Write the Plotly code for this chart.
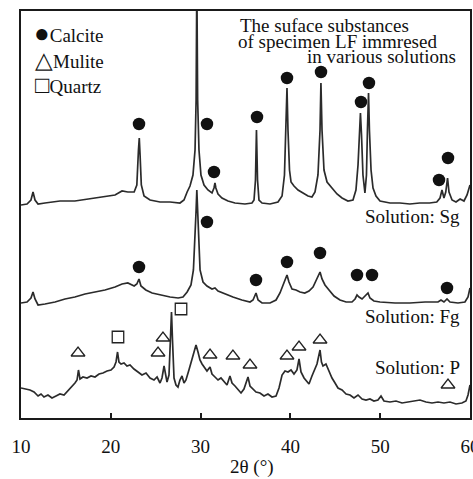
import plotly.graph_objects as go

# ---- XRD patterns (2θ in degrees, intensity in arbitrary units) ----
# Solution Sg
sg_2theta = [10.0, 10.67, 11.11, 11.34, 11.56, 11.9, 12.67, 14.34, 16.0, 17.7, 19.35, 20.47, 21.25, 21.9,
             22.6, 22.9, 23.08, 23.17, 23.26, 23.4, 23.7, 24.37, 25.48, 26.6, 27.7, 28.15, 28.5, 28.82,
             29.15, 29.38, 29.5, 29.58, 29.67, 29.82, 30.04, 30.38, 30.82, 31.27, 31.49, 31.6, 31.7, 31.94,
             32.38, 33.05, 33.83, 34.94, 35.72, 35.95, 36.11, 36.22, 36.34, 36.5, 36.84, 37.73, 38.62,
             39.07, 39.34, 39.51, 39.62, 39.73, 39.9, 40.07, 40.4, 40.85, 41.4, 41.96, 42.4, 42.74, 43.07,
             43.3, 43.4, 43.52, 43.74, 44.08, 44.63, 45.19, 45.75, 46.41, 46.97, 47.3, 47.53, 47.7, 47.8,
             47.92, 48.08, 48.3, 48.47, 48.58, 48.7, 48.8, 48.98, 49.2, 49.53, 49.98, 51.09, 52.2, 53.3,
             54.4, 55.5, 56.3, 56.66, 56.88, 57.1, 57.3, 57.5, 57.66, 58.0, 58.44, 58.9, 59.33, 59.67, 60.0]
sg_int = [13, 14, 18, 26, 18, 14, 15, 17, 17, 19, 21, 23, 27, 26,
          26, 33, 68, 80, 63, 33, 22, 18, 16, 16, 15, 18, 26, 32,
          43, 68, 118, 240, 118, 68, 43, 33, 28, 25, 30, 35, 30, 24,
          20, 17, 15, 14, 15, 18, 38, 88, 38, 18, 15, 14, 16,
          22, 43, 88, 130, 88, 48, 36, 32, 28, 25, 22, 21, 26, 43,
          88, 135, 88, 48, 36, 30, 24, 20, 17, 18, 28, 53, 88, 105,
          83, 43, 25, 43, 88, 125, 88, 48, 30, 22, 17, 15, 15, 14,
          15, 15, 16, 20, 28, 20, 26, 40, 26, 18, 16, 19, 17, 23, 33]

# Solution Fg
fg_2theta = [10.0, 10.67, 11.11, 11.34, 11.56, 11.9, 12.67, 13.79, 14.9, 16.0, 17.13, 18.24, 19.35, 20.47,
             21.25, 21.9, 22.6, 22.9, 23.14, 23.36, 23.9, 24.6, 25.48, 26.6, 27.5, 28.04, 28.5, 28.93,
             29.2, 29.38, 29.5, 29.58, 29.67, 29.77, 29.94, 30.27, 30.71, 31.27, 31.6, 31.94, 32.72, 33.6,
             34.6, 35.5, 35.84, 36.17, 36.4, 36.84, 37.73, 38.4, 38.84, 39.18, 39.4, 39.62, 39.84, 40.18,
             40.62, 41.07, 41.6, 42.07, 42.52, 42.85, 43.07, 43.3, 43.52, 43.85, 44.3, 44.86, 45.52, 46.2,
             46.86, 47.2, 47.42, 47.64, 47.98, 48.3, 48.64, 48.86, 49.3, 49.98, 51.65, 53.3, 55.0, 56.44,
             56.77, 57.1, 57.44, 57.77, 58.66, 59.44, 59.78, 60.0]
fg_int = [15, 16, 20, 26, 19, 13, 14, 16, 19, 21, 24, 26, 28, 31,
          34, 35, 32, 34, 39, 32, 28, 25, 23, 21, 20, 21, 26, 33,
          48, 78, 108, 128, 108, 78, 48, 36, 32, 29, 30, 27, 24, 21,
          18, 16, 18, 25, 18, 15, 15, 18, 25, 33, 38, 43, 36, 29,
          28, 26, 25, 27, 31, 38, 41, 46, 39, 33, 28, 22, 18, 16,
          16, 19, 23, 21, 19, 22, 25, 20, 17, 16, 15, 15, 16, 16,
          18, 16, 19, 16, 15, 16, 21, 30]

# Solution P
p_2theta = [10.0, 10.45, 11.0, 11.45, 11.9, 12.23, 12.56, 13.0, 13.45, 13.9, 14.34, 14.79, 15.23, 15.68,
            16.01, 16.24, 16.4, 16.57, 16.9, 17.35, 17.8, 18.24, 18.69, 19.13, 19.58, 20.02, 20.36, 20.58,
            20.75, 20.91, 21.14, 21.47, 21.8, 22.14, 22.58, 23.03, 23.47, 23.92, 24.37, 24.81, 25.15, 25.48,
            25.7, 25.93, 26.1, 26.26, 26.48, 26.65, 26.76, 26.87, 27.04, 27.26, 27.48, 27.7, 27.93, 28.15,
            28.37, 28.7, 29.04, 29.27, 29.49, 29.71, 29.93, 30.16, 30.49, 30.71, 31.05, 31.27, 31.6, 31.94,
            32.27, 32.6, 32.94, 33.27, 33.5, 33.83, 34.16, 34.5, 34.83, 35.06, 35.28, 35.5, 35.84, 36.17,
            36.61, 37.06, 37.5, 37.95, 38.4, 38.73, 39.07, 39.4, 39.73, 40.07, 40.4, 40.73, 40.96, 41.18,
            41.52, 41.85, 42.07, 42.4, 42.74, 42.96, 43.13, 43.3, 43.46, 43.63, 43.96, 44.3, 44.63, 44.97,
            45.3, 45.75, 46.2, 46.64, 47.08, 47.53, 47.98, 48.42, 48.86, 49.3, 49.75, 50.09, 50.42, 51.09,
            51.76, 52.43, 53.1, 53.77, 54.43, 55.1, 55.77, 56.44, 57.1, 57.77, 58.44, 59.1, 59.55, 59.78, 60.0]
p_int = [30, 29, 28, 26, 22, 24, 21, 23, 20, 22, 24, 23, 27, 32,
         35, 38, 48, 39, 41, 40, 42, 41, 44, 45, 47, 48, 51, 56,
         66, 56, 54, 55, 52, 53, 49, 46, 43, 45, 40, 38, 41, 35,
         40, 52, 43, 36, 43, 88, 106, 78, 40, 33, 31, 38, 42, 35,
         38, 48, 58, 66, 73, 66, 58, 54, 49, 47, 51, 44, 41, 38,
         40, 36, 33, 42, 35, 32, 28, 25, 29, 35, 41, 32, 29, 26,
         25, 22, 24, 21, 22, 30, 43, 47, 46, 48, 44, 48, 59, 46,
         40, 36, 34, 42, 49, 54, 61, 68, 56, 52, 54, 47, 40, 35,
         30, 28, 24, 23, 20, 23, 19, 18, 19, 17, 18, 22, 17, 16,
         17, 15, 16, 17, 18, 16, 15, 16, 15, 16, 14, 15, 17, 23, 33]

# vertical offsets used to stack the three patterns
offset_sg = 200
offset_fg = 100
offset_p = 0

# ---- phase identification marks (2θ, height above each pattern's offset) ----
calcite_sg_2theta = [23.14, 30.71, 31.49, 36.28, 39.62, 43.41, 47.86, 48.75, 56.55, 57.55]
calcite_sg_h = [94, 94, 46, 101, 140, 146, 116, 135, 38, 60]
calcite_fg_2theta = [23.14, 30.71, 36.17, 39.62, 43.3, 47.42, 49.09, 57.44]
calcite_fg_h = [51, 96, 38, 56, 65, 43, 43, 30]
mulite_p_2theta = [16.35, 25.26, 25.81, 31.05, 33.6, 35.5, 39.62, 40.96, 43.3, 57.55]
mulite_p_h = [65, 65, 80, 63, 62, 53, 62, 71, 78, 33]
quartz_p_2theta = [20.8, 27.82]
quartz_p_h = [81, 109]

x_ticks = [10, 20, 30, 40, 50, 60]

LINE = "#2b2b2b"
INK = "#111111"
SERIF = "Liberation Serif, Times New Roman, serif"

fig = go.Figure()

for xs, ys, off in [(sg_2theta, sg_int, offset_sg),
                    (fg_2theta, fg_int, offset_fg),
                    (p_2theta, p_int, offset_p)]:
    fig.add_trace(go.Scatter(
        x=xs, y=[v + off for v in ys], mode="lines",
        line=dict(color=LINE, width=1.7), showlegend=False, hoverinfo="skip"))

# Calcite (filled circles)
fig.add_trace(go.Scatter(
    x=calcite_sg_2theta + calcite_fg_2theta,
    y=[h + offset_sg for h in calcite_sg_h] + [h + offset_fg for h in calcite_fg_h],
    mode="markers", name="Calcite", showlegend=False,
    marker=dict(symbol="circle", size=12.5, color=INK)))

# Mulite (open triangles)
fig.add_trace(go.Scatter(
    x=mulite_p_2theta, y=[h + offset_p for h in mulite_p_h],
    mode="markers", name="Mulite", showlegend=False,
    marker=dict(symbol="triangle-up-open", size=12, color="#222222",
                line=dict(width=1.3, color="#222222"))))

# Quartz (open squares)
fig.add_trace(go.Scatter(
    x=quartz_p_2theta, y=[h + offset_p for h in quartz_p_h],
    mode="markers", name="Quartz", showlegend=False,
    marker=dict(symbol="square-open", size=11.5, color="#222222",
                line=dict(width=1.3, color="#222222"))))

ann_font = dict(family=SERIF, size=19, color=INK)
annotations = [
    dict(text="The suface substances", x=0.483, y=0.9656, xanchor="left"),
    dict(text="of specimen LF immresed", x=0.479, y=0.924, xanchor="left"),
    dict(text="in various solutions", x=0.973, y=0.887, xanchor="right"),
    dict(text="<span style='font-size:26px'>●</span>Calcite", x=0.024, y=0.9435, xanchor="left"),
    dict(text="<span style='font-size:23px'>△</span>Mulite", x=0.026, y=0.8796, xanchor="left"),
    dict(text="<span style='font-size:24px'>□</span>Quartz", x=0.026, y=0.818, xanchor="left"),
    dict(text="Solution: Sg", x=0.982, y=0.4939, xanchor="right"),
    dict(text="Solution: Fg", x=0.982, y=0.2482, xanchor="right"),
    dict(text="Solution: P", x=0.982, y=0.1229, xanchor="right"),
    dict(text="2θ (°)", x=0.5145, y=-0.1204, xanchor="center"),
]
for a in annotations:
    a.update(xref="paper", yref="paper", yanchor="middle", showarrow=False, font=ann_font)

fig.update_layout(
    width=473, height=479,
    margin=dict(l=21, r=3, t=11, b=61),
    paper_bgcolor="white", plot_bgcolor="white",
    annotations=annotations,
    xaxis=dict(range=[10, 60], tickvals=x_ticks, ticks="inside", ticklen=5, tickwidth=2,
               tickcolor="#1a1a1a", showline=True, linewidth=2, linecolor="#1a1a1a", mirror=True,
               showgrid=False, zeroline=False, ticklabelstandoff=10, ticklabeloverflow="allow",
               automargin=False, tickfont=dict(family=SERIF, size=19, color=INK)),
    yaxis=dict(range=[0, 407], showticklabels=False, ticks="", showline=True, linewidth=2,
               linecolor="#1a1a1a", mirror=True, showgrid=False, zeroline=False, automargin=False),
)

fig.write_html("out.html")
